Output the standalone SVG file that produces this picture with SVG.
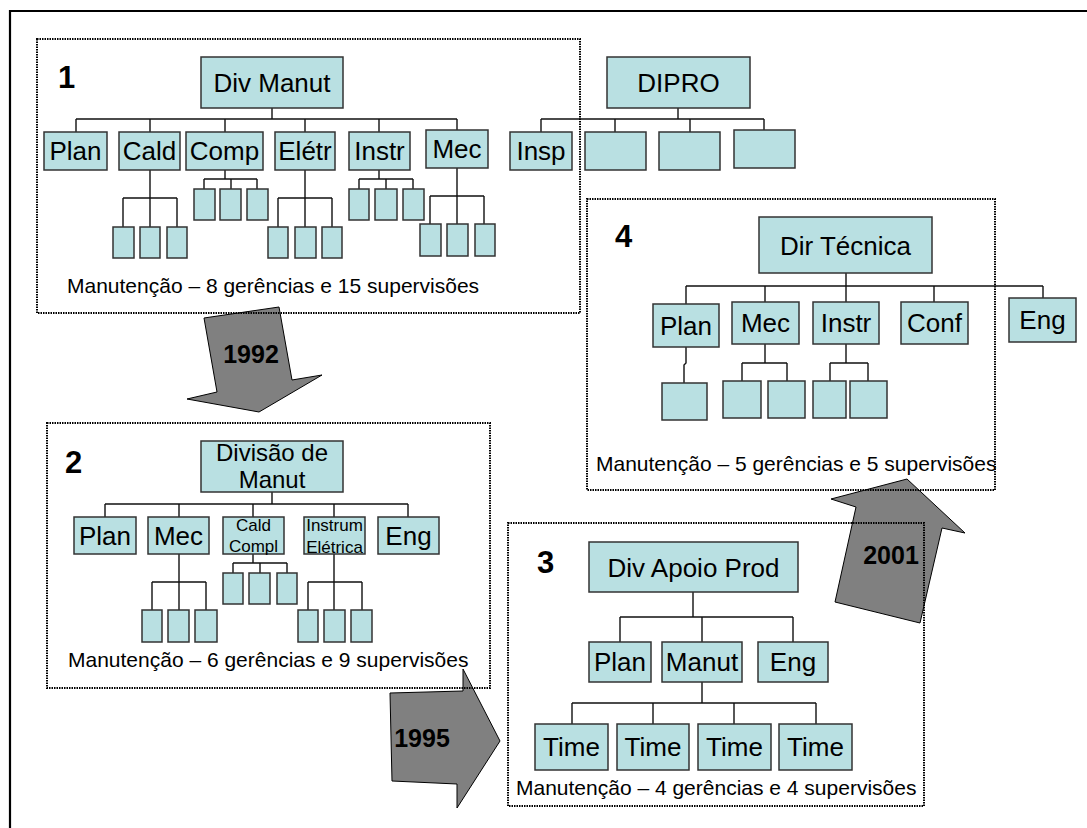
<svg xmlns="http://www.w3.org/2000/svg" width="1087" height="828" viewBox="0 0 1087 828">
  <style>
    .n { fill: #B9E0E2; stroke: #333; stroke-width: 1.5; }
    .t { font-family: "Liberation Sans", Arial, sans-serif; font-size: 26px; fill: #000; text-anchor: middle; }
    .ts { font-family: "Liberation Sans", Arial, sans-serif; font-size: 17px; fill: #000; text-anchor: middle; }
    .cap { font-family: "Liberation Sans", Arial, sans-serif; font-size: 21px; fill: #000; }
    .num { font-family: "Liberation Sans", Arial, sans-serif; font-size: 31px; font-weight: bold; fill: #000; }
    .yr { font-family: "Liberation Sans", Arial, sans-serif; font-size: 25px; font-weight: bold; fill: #000; text-anchor: middle; }
    .grp { fill: none; stroke: #000; stroke-width: 2; stroke-dasharray: 1.5 1; }
    .arr { fill: #808080; stroke: #000; stroke-width: 1; }
    .c { fill: none; stroke: #111; stroke-width: 1.4; }
  </style>

  <rect width="1087" height="828" fill="#fff"/>
  <!-- page frame -->
  <path d="M10,828 V11 H1087" fill="none" stroke="#000" stroke-width="2.2"/>

  <!-- transition arrows -->
  <g id="arrow-1992">
    <polygon class="arr" points="204,318 279,307 292,380 322,375 259,412 187,399 217,392"/>
    <text class="yr" x="251" y="363">1992</text>
  </g>
  <g id="arrow-1995">
    <polygon class="arr" points="390,693 463,691 463,669 500,741 457,808 457,784 392,781"/>
    <text class="yr" x="422" y="747">1995</text>
  </g>
  <g id="arrow-2001">
    <polygon class="arr" points="907,479 965,533 942,528 920,623 835,602 856,507 831,499"/>
    <text class="yr" x="891" y="564">2001</text>
  </g>

  <!-- connectors -->
  <g id="connectors" class="c">
    <!-- stage 1 -->
    <path d="M272,108 V119 M76,119 H457 M76,119 V132 M150,119 V132 M225,119 V132 M305,119 V132 M379,119 V132 M457,119 V130"/>
    <path d="M150,170 V198 M123,198 H177 M123,198 V227 M150,198 V227 M177,198 V227"/>
    <path d="M225,170 V179 M204,179 H257 M204,179 V189 M231,179 V189 M257,179 V189"/>
    <path d="M305,170 V198 M278,198 H332 M278,198 V227 M305,198 V227 M332,198 V227"/>
    <path d="M379,170 V179 M359,179 H413 M359,179 V189 M386,179 V189 M413,179 V189"/>
    <path d="M457,168 V196 M430,196 H484 M430,196 V224 M457,196 V224 M484,196 V224"/>
    <!-- DIPRO -->
    <path d="M678,108 V119 M541,119 H764 M541,119 V132 M615,119 V132 M690,119 V132 M764,119 V130"/>
    <!-- stage 2 -->
    <path d="M272,492 V504 M105,504 H408 M105,504 V517 M179,504 V517 M253,504 V517 M334,504 V517 M408,504 V517"/>
    <path d="M179,554 V582 M152,582 H206 M152,582 V610 M179,582 V610 M206,582 V610"/>
    <path d="M253,554 V563 M233,563 H287 M233,563 V573 M260,563 V573 M287,563 V573"/>
    <path d="M334,554 V582 M308,582 H362 M308,582 V610 M334,582 V610 M362,582 V610"/>
    <!-- stage 3 -->
    <path d="M693,592 V617 M620,617 H793 M620,617 V642 M702,617 V642 M793,617 V642"/>
    <path d="M702,682 V703 M572,703 H816 M572,703 V724 M653,703 V724 M734,703 V724 M816,703 V724"/>
    <!-- stage 4 -->
    <path d="M846,273 V286 M686,286 H1043 M686,286 V304 M765,286 V302 M846,286 V302 M934,286 V302 M1043,286 V298"/>
    <path d="M686,347 V363 L684,365 V383"/>
    <path d="M765,344 V363 M742,363 H787 M742,363 V381 M787,363 V381"/>
    <path d="M846,344 V363 M830,363 H868 M830,363 V381 M868,363 V381"/>
  </g>

  <!-- stage 1: maintenance division -->
  <g id="div-manut">
    <rect class="n" x="201" y="57" width="142" height="51"/>
    <text class="t" x="272" y="92">Div Manut</text>
  </g>
  <g id="s1-plan"><rect class="n" x="44" y="132" width="63" height="38"/><text class="t" x="75.5" y="160">Plan</text></g>
  <g id="s1-cald"><rect class="n" x="119" y="132" width="61" height="38"/><text class="t" x="149.5" y="160">Cald</text></g>
  <g id="s1-comp"><rect class="n" x="186" y="132" width="77" height="38"/><text class="t" x="224.5" y="160">Comp</text></g>
  <g id="s1-eletr"><rect class="n" x="275" y="132" width="60" height="38"/><text class="t" x="305" y="160">Elétr</text></g>
  <g id="s1-instr"><rect class="n" x="349" y="132" width="61" height="38"/><text class="t" x="379.5" y="160">Instr</text></g>
  <g id="s1-mec"><rect class="n" x="426" y="130" width="62" height="38"/><text class="t" x="457" y="158">Mec</text></g>
  <g id="s1-cald-subs">
    <rect class="n" x="113" y="227" width="21" height="31"/><rect class="n" x="140" y="227" width="20" height="31"/><rect class="n" x="167" y="227" width="20" height="31"/>
  </g>
  <g id="s1-comp-subs">
    <rect class="n" x="194" y="189" width="21" height="31"/><rect class="n" x="220" y="189" width="21" height="31"/><rect class="n" x="247" y="189" width="21" height="31"/>
  </g>
  <g id="s1-eletr-subs">
    <rect class="n" x="268" y="227" width="20" height="31"/><rect class="n" x="295" y="227" width="21" height="31"/><rect class="n" x="322" y="227" width="20" height="31"/>
  </g>
  <g id="s1-instr-subs">
    <rect class="n" x="349" y="189" width="20" height="31"/><rect class="n" x="375" y="189" width="22" height="31"/><rect class="n" x="403" y="189" width="21" height="31"/>
  </g>
  <g id="s1-mec-subs">
    <rect class="n" x="420" y="224" width="21" height="32"/><rect class="n" x="447" y="224" width="21" height="32"/><rect class="n" x="475" y="224" width="20" height="32"/>
  </g>

  <!-- DIPRO -->
  <g id="dipro">
    <rect class="n" x="607" y="57" width="143" height="51"/>
    <text class="t" x="678.5" y="92">DIPRO</text>
  </g>
  <g id="dipro-insp"><rect class="n" x="510" y="132" width="62" height="38"/><text class="t" x="541" y="160">Insp</text></g>
  <g id="dipro-b"><rect class="n" x="585" y="132" width="61" height="38"/></g>
  <g id="dipro-c"><rect class="n" x="659" y="132" width="61" height="38"/></g>
  <g id="dipro-d"><rect class="n" x="734" y="130" width="61" height="38"/></g>

  <!-- stage 2 -->
  <g id="divisao-manut">
    <rect class="n" x="201" y="441" width="142" height="51"/>
    <text class="t" x="272" y="461" style="font-size:24px">Divisão de</text>
    <text class="t" x="272" y="488" style="font-size:24px">Manut</text>
  </g>
  <g id="s2-plan"><rect class="n" x="74" y="517" width="62" height="37"/><text class="t" x="105" y="545">Plan</text></g>
  <g id="s2-mec"><rect class="n" x="148" y="517" width="61" height="37"/><text class="t" x="178.5" y="545">Mec</text></g>
  <g id="s2-cald-compl">
    <rect class="n" x="223" y="517" width="61" height="37"/>
    <text class="ts" x="253.5" y="531">Cald</text><text class="ts" x="253.5" y="552">Compl</text>
  </g>
  <g id="s2-instrum-eletrica">
    <rect class="n" x="304" y="517" width="61" height="37"/>
    <text class="ts" x="334.5" y="531">Instrum</text><text class="ts" x="334.5" y="553">Elétrica</text>
  </g>
  <g id="s2-eng"><rect class="n" x="378" y="517" width="61" height="37"/><text class="t" x="408.5" y="545">Eng</text></g>
  <g id="s2-mec-subs">
    <rect class="n" x="142" y="610" width="20" height="32"/><rect class="n" x="168" y="610" width="21" height="32"/><rect class="n" x="195" y="610" width="22" height="32"/>
  </g>
  <g id="s2-cald-subs">
    <rect class="n" x="223" y="573" width="20" height="31"/><rect class="n" x="249" y="573" width="21" height="31"/><rect class="n" x="277" y="573" width="20" height="31"/>
  </g>
  <g id="s2-instrum-subs">
    <rect class="n" x="298" y="610" width="20" height="32"/><rect class="n" x="324" y="610" width="21" height="32"/><rect class="n" x="351" y="610" width="21" height="32"/>
  </g>

  <!-- stage 3 -->
  <g id="div-apoio-prod">
    <rect class="n" x="589" y="542" width="209" height="50"/>
    <text class="t" x="693.5" y="577">Div Apoio Prod</text>
  </g>
  <g id="s3-plan"><rect class="n" x="589" y="642" width="62" height="40"/><text class="t" x="620" y="671">Plan</text></g>
  <g id="s3-manut"><rect class="n" x="662" y="642" width="80" height="40"/><text class="t" x="702" y="671">Manut</text></g>
  <g id="s3-eng"><rect class="n" x="758" y="642" width="70" height="40"/><text class="t" x="793" y="671">Eng</text></g>
  <g id="s3-time-1"><rect class="n" x="535" y="724" width="73" height="46"/><text class="t" x="571.5" y="756">Time</text></g>
  <g id="s3-time-2"><rect class="n" x="617" y="724" width="72" height="46"/><text class="t" x="653" y="756">Time</text></g>
  <g id="s3-time-3"><rect class="n" x="698" y="724" width="73" height="46"/><text class="t" x="734.5" y="756">Time</text></g>
  <g id="s3-time-4"><rect class="n" x="779" y="724" width="73" height="46"/><text class="t" x="815.5" y="756">Time</text></g>

  <!-- stage 4 -->
  <g id="dir-tecnica">
    <rect class="n" x="759" y="217" width="173" height="56"/>
    <text class="t" x="845.5" y="255">Dir Técnica</text>
  </g>
  <g id="s4-plan"><rect class="n" x="653" y="304" width="66" height="43"/><text class="t" x="686" y="335">Plan</text></g>
  <g id="s4-mec"><rect class="n" x="732" y="302" width="67" height="42"/><text class="t" x="765.5" y="332">Mec</text></g>
  <g id="s4-instr"><rect class="n" x="813" y="302" width="66" height="42"/><text class="t" x="846" y="332">Instr</text></g>
  <g id="s4-conf"><rect class="n" x="901" y="302" width="67" height="42"/><text class="t" x="934.5" y="332">Conf</text></g>
  <g id="s4-eng"><rect class="n" x="1009" y="298" width="67" height="44"/><text class="t" x="1042.5" y="329">Eng</text></g>
  <g id="s4-plan-sub"><rect class="n" x="662" y="383" width="45" height="37"/></g>
  <g id="s4-mec-subs"><rect class="n" x="723" y="381" width="38" height="37"/><rect class="n" x="768" y="381" width="37" height="37"/></g>
  <g id="s4-instr-subs"><rect class="n" x="813" y="381" width="33" height="37"/><rect class="n" x="850" y="381" width="37" height="37"/></g>

  <!-- stage frames, numbers and captions -->
  <g id="stage-1">
    <rect class="grp" x="37" y="39" width="543" height="274"/>
    <text class="num" x="58" y="88">1</text>
    <text class="cap" x="67" y="293">Manutenção – 8 gerências e 15 supervisões</text>
  </g>
  <g id="stage-2">
    <rect class="grp" x="47" y="423" width="443" height="265"/>
    <text class="num" x="65" y="473">2</text>
    <text class="cap" x="68" y="667">Manutenção – 6 gerências e 9 supervisões</text>
  </g>
  <g id="stage-3">
    <rect class="grp" x="508" y="523" width="416" height="283"/>
    <text class="num" x="537" y="573">3</text>
    <text class="cap" x="516" y="795">Manutenção – 4 gerências e 4 supervisões</text>
  </g>
  <g id="stage-4">
    <rect class="grp" x="587" y="199" width="408" height="291"/>
    <text class="num" x="615" y="247">4</text>
    <text class="cap" x="596" y="471">Manutenção – 5 gerências e 5 supervisões</text>
  </g>
</svg>
